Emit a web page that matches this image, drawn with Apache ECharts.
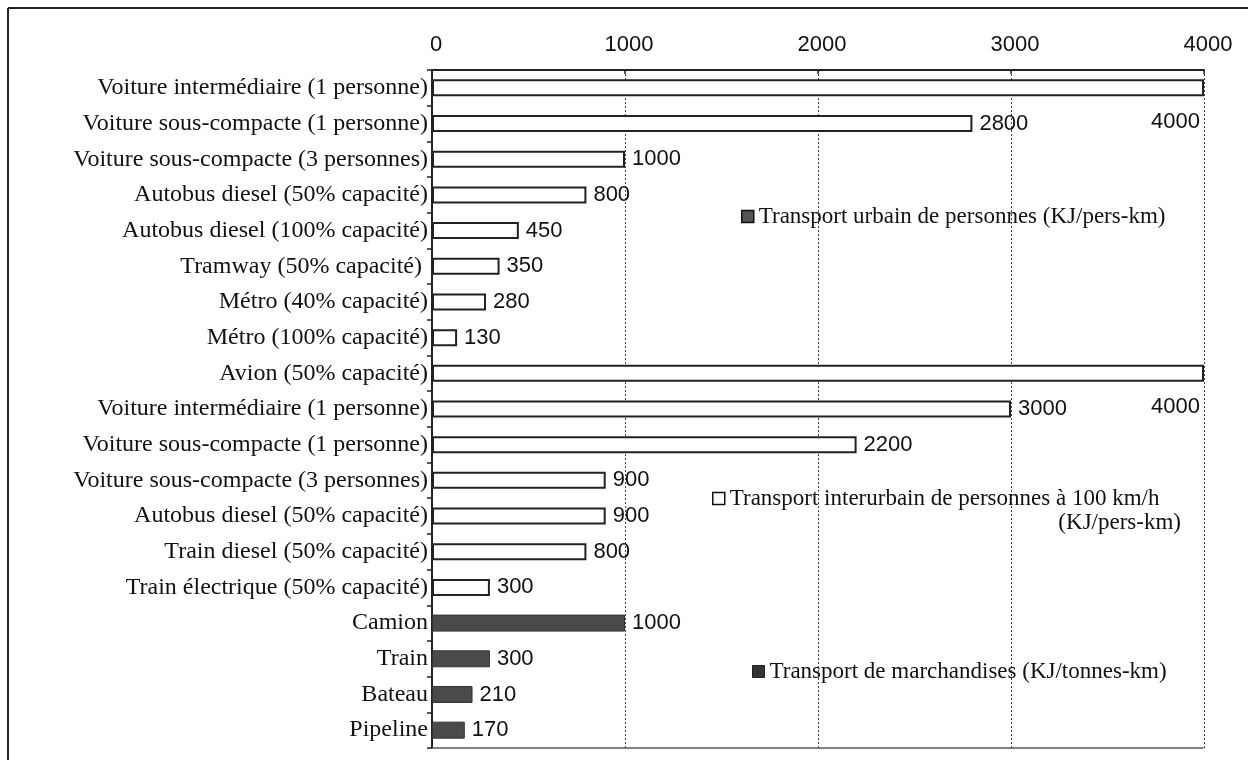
<!DOCTYPE html>
<html>
<head>
<meta charset="utf-8">
<script src="https://cdn.jsdelivr.net/npm/echarts@6/dist/echarts.min.js"></script>
<style>
  html, body { margin: 0; padding: 0; background: #fff; }
  #chart { width: 1248px; height: 760px; }
</style>
</head>
<body>
<div id="chart"></div>
<script>
  // catégories, de haut en bas
  var categories = [
    'Voiture intermédiaire (1 personne)',
    'Voiture sous-compacte (1 personne)',
    'Voiture sous-compacte (3 personnes)',
    'Autobus diesel (50% capacité)',
    'Autobus diesel (100% capacité)',
    'Tramway (50% capacité) ',
    'Métro (40% capacité)',
    'Métro (100% capacité)',
    'Avion (50% capacité)',
    'Voiture intermédiaire (1 personne)',
    'Voiture sous-compacte (1 personne)',
    'Voiture sous-compacte (3 personnes)',
    'Autobus diesel (50% capacité)',
    'Train diesel (50% capacité)',
    'Train électrique (50% capacité)',
    'Camion',
    'Train',
    'Bateau',
    'Pipeline'
  ];
  var urbain = [4000, 2800, 1000, 800, 450, 350, 280, 130,
    null, null, null, null, null, null, null, null, null, null, null];
  var interurbain = [null, null, null, null, null, null, null, null,
    4000, 3000, 2200, 900, 900, 800, 300, null, null, null, null];
  var marchandises = [null, null, null, null, null, null, null, null,
    null, null, null, null, null, null, null, 1000, 300, 210, 170];
  var xTicks = [0, 1000, 2000, 3000, 4000];

  var serif = 'Liberation Serif, Times New Roman, serif';
  var sans = 'Liberation Sans, Arial, sans-serif';

  // les barres à 4000 ont leur étiquette décalée sous la barre
  function withLabels(values) {
    return values.map(function (v) {
      if (v === 4000) {
        return {
          value: v,
          label: { show: true, position: 'insideRight', distance: 4, offset: [0, 34] }
        };
      }
      return v;
    });
  }

  var valueLabel = {
    show: true,
    position: 'right',
    distance: 7,
    color: '#111',
    fontFamily: sans,
    fontSize: 22
  };

  var legendText = { fontFamily: serif, fontSize: 23, color: '#111' };

  var myChart = echarts.init(document.getElementById('chart'));
  var option = {
    animation: false,
    backgroundColor: '#fff',
    grid: { left: 432, right: 44, top: 70, bottom: 12 },
    graphic: [
      { type: 'line', shape: { x1: 8, y1: 8, x2: 1248, y2: 8 }, style: { stroke: '#222', lineWidth: 2 } },
      { type: 'line', shape: { x1: 8, y1: 8, x2: 8, y2: 760 }, style: { stroke: '#222', lineWidth: 2 } },
      {
        type: 'text', z: 10,
        style: {
          x: 1181, y: 523, text: '(KJ/pers-km)', align: 'right', verticalAlign: 'middle',
          fill: '#111', font: '23px ' + serif
        }
      }
    ],
    legend: [
      {
        data: ['Transport urbain de personnes (KJ/pers-km)'],
        left: 736, top: 200,
        itemWidth: 12, itemHeight: 12,
        icon: 'rect',
        textStyle: legendText,
        itemStyle: { color: '#555', borderColor: '#111', borderWidth: 1.5 }
      },
      {
        data: ['Transport interurbain de personnes à 100 km/h'],
        left: 707, top: 482,
        itemWidth: 12, itemHeight: 12,
        icon: 'rect',
        textStyle: legendText,
        itemStyle: { color: '#fff', borderColor: '#111', borderWidth: 1.5 }
      },
      {
        data: ['Transport de marchandises (KJ/tonnes-km)'],
        left: 747, top: 655,
        itemWidth: 12, itemHeight: 12,
        icon: 'rect',
        textStyle: legendText,
        itemStyle: { color: '#333', borderColor: '#222', borderWidth: 1 }
      }
    ],
    xAxis: [
      {
        type: 'value',
        position: 'top',
        min: 0,
        max: 4000,
        interval: 1000,
        axisLine: { show: true, lineStyle: { color: '#222', width: 2 } },
        axisTick: { show: true, inside: true, length: 4, lineStyle: { color: '#222', width: 1.5 } },
        axisLabel: {
          margin: 14,
          color: '#111',
          fontFamily: sans,
          fontSize: 22,
          padding: [0, 0, 0, 8],
          formatter: function (v) { return xTicks.indexOf(v) >= 0 ? String(v) : ''; }
        },
        splitLine: { show: true, lineStyle: { color: '#444', width: 1, type: [2, 2] } }
      },
      {
        type: 'value',
        position: 'bottom',
        min: 0,
        max: 4000,
        interval: 1000,
        axisLine: { show: true, lineStyle: { color: '#555', width: 1.5, type: [3, 1] } },
        axisTick: { show: false },
        axisLabel: { show: false },
        splitLine: { show: false }
      }
    ],
    yAxis: {
      type: 'category',
      inverse: true,
      data: categories,
      axisLine: { show: true, lineStyle: { color: '#222', width: 2 } },
      axisTick: { show: true, length: 5, lineStyle: { color: '#222', width: 1.5 } },
      axisLabel: {
        margin: 4,
        color: '#111',
        fontFamily: serif,
        fontSize: 24,
        interval: 0
      }
    },
    series: [
      {
        name: 'Transport urbain de personnes (KJ/pers-km)',
        type: 'bar',
        stack: 'all',
        barWidth: 17,
        data: withLabels(urbain),
        itemStyle: { color: '#fff', borderColor: '#222', borderWidth: 2 },
        label: valueLabel
      },
      {
        name: 'Transport interurbain de personnes à 100 km/h',
        type: 'bar',
        stack: 'all',
        barWidth: 17,
        data: withLabels(interurbain),
        itemStyle: { color: '#fff', borderColor: '#222', borderWidth: 2 },
        label: valueLabel
      },
      {
        name: 'Transport de marchandises (KJ/tonnes-km)',
        type: 'bar',
        stack: 'all',
        barWidth: 17,
        data: marchandises,
        itemStyle: { color: '#4a4a4a', borderColor: '#333', borderWidth: 1 },
        label: valueLabel
      }
    ]
  };
  myChart.setOption(option);
</script>
</body>
</html>
